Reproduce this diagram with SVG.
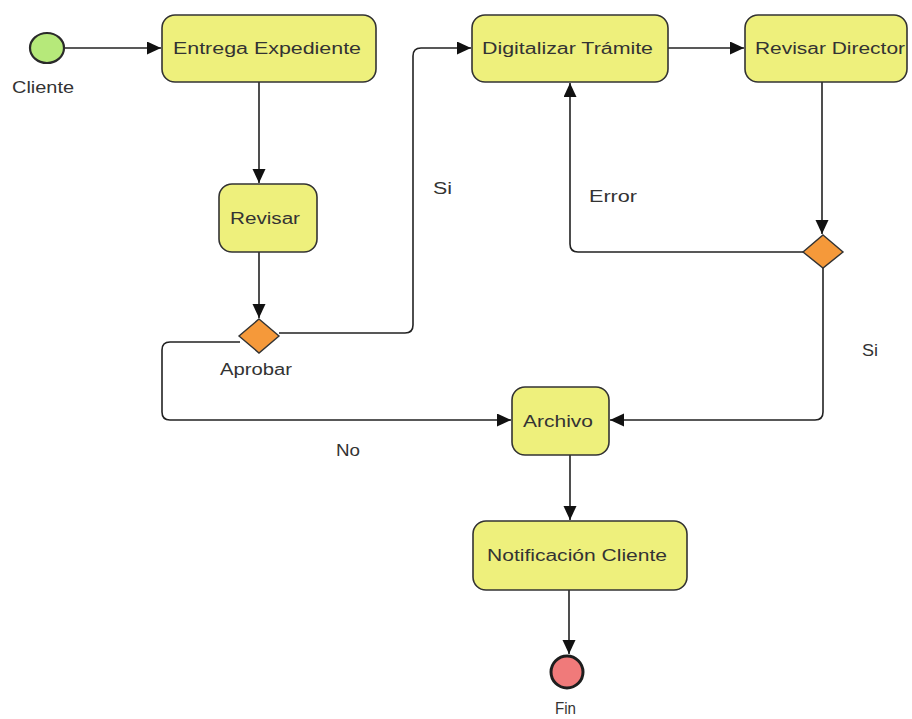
<svg xmlns="http://www.w3.org/2000/svg" width="912" height="719" viewBox="0 0 912 719">
  <style>
    .action { fill: #eef07c; stroke: #333333; stroke-width: 1.6; }
    .decision { fill: #f5993a; stroke: #333333; stroke-width: 1.4; }
    .label { font-family: "Liberation Sans", Arial, sans-serif; font-size: 16px; fill: #333333; }
    .flow { fill: none; stroke: #222222; stroke-width: 1.6; }
  </style>
  <defs>
    <marker id="arrow" markerUnits="userSpaceOnUse" markerWidth="16" markerHeight="14" refX="14" refY="6.5" orient="auto">
      <path d="M0,0 L14,6.5 L0,13 Z" fill="#111111"/>
    </marker>
  </defs>
  <rect width="912" height="719" fill="#ffffff"/>

  <!-- connectors -->
  <g id="connectors">
    <path class="flow" d="M64,48 H161" marker-end="url(#arrow)"/>
    <path class="flow" d="M259,82 V183" marker-end="url(#arrow)"/>
    <path class="flow" d="M259,252 V318" marker-end="url(#arrow)"/>
    <path class="flow" d="M279,333 H405 Q413,333 413,325 V56 Q413,48 421,48 H471" marker-end="url(#arrow)"/>
    <path class="flow" d="M240,342 H170 Q162,342 162,350 V412 Q162,420 170,420 H511" marker-end="url(#arrow)"/>
    <path class="flow" d="M668,48 H744" marker-end="url(#arrow)"/>
    <path class="flow" d="M822,82 V234" marker-end="url(#arrow)"/>
    <path class="flow" d="M803,252 H578 Q570,252 570,244 V83" marker-end="url(#arrow)"/>
    <path class="flow" d="M823,268 V412 Q823,420 815,420 H610" marker-end="url(#arrow)"/>
    <path class="flow" d="M570,455 V520" marker-end="url(#arrow)"/>
    <path class="flow" d="M569,590 V654" marker-end="url(#arrow)"/>
    <text class="label" x="433" y="194" textLength="19" lengthAdjust="spacingAndGlyphs">Si</text>
    <text class="label" x="336" y="456" textLength="24" lengthAdjust="spacingAndGlyphs">No</text>
    <text class="label" x="589" y="202" textLength="48" lengthAdjust="spacingAndGlyphs">Error</text>
    <text class="label" x="862" y="356" textLength="16" lengthAdjust="spacingAndGlyphs">Si</text>
  </g>

  <!-- start -->
  <g id="cliente">
    <ellipse cx="47" cy="48" rx="17" ry="15" fill="#b6e97a" stroke="#2a2a2a" stroke-width="2.2"/>
    <text class="label" x="12" y="93" textLength="62" lengthAdjust="spacingAndGlyphs">Cliente</text>
  </g>

  <g id="entrega-expediente">
    <rect class="action" x="162" y="15" width="214" height="67" rx="13"/>
    <text class="label" x="173" y="54" textLength="188" lengthAdjust="spacingAndGlyphs">Entrega Expediente</text>
  </g>

  <g id="revisar">
    <rect class="action" x="219" y="184" width="98" height="68" rx="13"/>
    <text class="label" x="230" y="224" textLength="70" lengthAdjust="spacingAndGlyphs">Revisar</text>
  </g>

  <g id="aprobar">
    <polygon class="decision" points="259,319 279,336 259,353 239,336"/>
    <text class="label" x="220" y="375" textLength="72" lengthAdjust="spacingAndGlyphs">Aprobar</text>
  </g>

  <g id="digitalizar-tramite">
    <rect class="action" x="472" y="15" width="196" height="67" rx="13"/>
    <text class="label" x="482" y="54" textLength="171" lengthAdjust="spacingAndGlyphs">Digitalizar Trámite</text>
  </g>

  <g id="revisar-director">
    <rect class="action" x="745" y="15" width="162" height="67" rx="13"/>
    <text class="label" x="755" y="54" textLength="150" lengthAdjust="spacingAndGlyphs">Revisar Director</text>
  </g>

  <g id="decision-director">
    <polygon class="decision" points="823,235 843,252 823,268 803,252"/>
  </g>

  <g id="archivo">
    <rect class="action" x="512" y="387" width="97" height="68" rx="13"/>
    <text class="label" x="523" y="427" textLength="70" lengthAdjust="spacingAndGlyphs">Archivo</text>
  </g>

  <g id="notificacion-cliente">
    <rect class="action" x="473" y="521" width="214" height="69" rx="13"/>
    <text class="label" x="487" y="561" textLength="180" lengthAdjust="spacingAndGlyphs">Notificación Cliente</text>
  </g>

  <!-- end -->
  <g id="fin">
    <circle cx="567" cy="672" r="16" fill="#f07a7a" stroke="#1e1e1e" stroke-width="3"/>
    <text class="label" x="555" y="714" textLength="21" lengthAdjust="spacingAndGlyphs">Fin</text>
  </g>
</svg>
